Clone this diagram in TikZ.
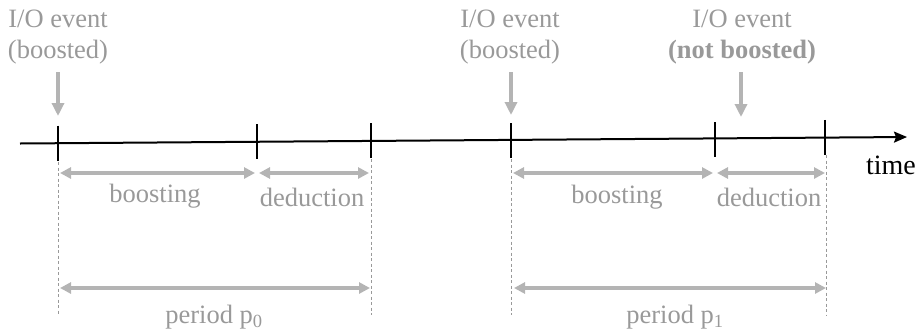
\documentclass[tikz,border=0pt]{standalone}
\usepackage{fontspec}
\setmainfont{Liberation Serif}
\usetikzlibrary{arrows.meta}
\definecolor{lbl}{HTML}{999999}
\definecolor{arr}{HTML}{B4B4B4}
\begin{document}
\begin{tikzpicture}[x=1pt,y=-1pt,
 lab/.style={text=lbl,font=\fontsize{26.5}{31}\selectfont,inner sep=0pt,align=center},
 evarrow/.style={draw=arr,line width=3.5pt,-{Triangle[length=13pt,width=12pt]}},
 span/.style={draw=arr,line width=3.5pt,{Triangle[length=11pt,width=11pt]}-{Triangle[length=11pt,width=11pt]}},
 guide/.style={draw=lbl,line width=0.8pt,dash pattern=on 3pt off 2.5pt},
 tickmark/.style={draw=black,line width=2pt},
 axis/.style={draw=black,line width=2pt,-{Stealth[length=13pt,width=11pt,inset=2pt]}}]
\useasboundingbox (0,0) rectangle (917,330);
% timeline
\coordinate (a0) at (20,143.5);
\coordinate (a1) at (907,137);
\draw[axis] (a0) -- (a1);
\coordinate (t1) at (58,143.2);
\coordinate (t2) at (257,141.8);
\coordinate (t3) at (371,140.9);
\coordinate (t4) at (511,140.6);
\coordinate (t5) at (715,139.6);
\coordinate (t6) at (825,137.3);
\foreach \t in {t1,t2,t3,t4,t5,t6}{
  \draw[tickmark] ([yshift=17.5pt]\t) -- ([yshift=-17.5pt]\t);
}
\node[text=black,font=\fontsize{28}{32}\selectfont,inner sep=0pt,anchor=east] (time) at (916,165) {time};
% event labels and arrows
\node[lab] (e1) at (58,37) {I/O event\\(boosted)};
\node[lab] (e2) at (510,37) {I/O event\\(boosted)};
\node[lab] (e3) at (742,37) {I/O event\\\textbf{(not boosted)}};
\coordinate (e1s) at (58,72); \coordinate (e1t) at (58,116);
\coordinate (e2s) at (511,72); \coordinate (e2t) at (511,115);
\coordinate (e3s) at (741,72); \coordinate (e3t) at (741,117);
\draw[evarrow] (e1s) -- (e1t);
\draw[evarrow] (e2s) -- (e2t);
\draw[evarrow] (e3s) -- (e3t);
% dashed guides
\coordinate (g1a) at (58,162); \coordinate (g1b) at (58,315);
\coordinate (g3a) at (371,159); \coordinate (g3b) at (371,315);
\coordinate (g4a) at (511,159); \coordinate (g4b) at (511,315);
\coordinate (g6a) at (826,155); \coordinate (g6b) at (826,315);
\draw[guide] (g1a) -- (g1b);
\draw[guide] (g3a) -- (g3b);
\draw[guide] (g4a) -- (g4b);
\draw[guide] (g6a) -- (g6b);
% phase spans
\coordinate (b1a) at (60,173); \coordinate (b1b) at (255,173);
\coordinate (d1a) at (259,173); \coordinate (d1b) at (369,173);
\coordinate (b2a) at (513,173); \coordinate (b2b) at (713,173);
\coordinate (d2a) at (717,173); \coordinate (d2b) at (825,173);
\draw[span] (b1a) -- (b1b);
\draw[span] (d1a) -- (d1b);
\draw[span] (b2a) -- (b2b);
\draw[span] (d2a) -- (d2b);
\node[lab] (l1) at (155,196) {boosting};
\node[lab] (l2) at (312,197) {deduction};
\node[lab] (l3) at (617,197) {boosting};
\node[lab] (l4) at (769,197) {deduction};
% periods
\coordinate (p0a) at (60,288); \coordinate (p0b) at (370,288);
\coordinate (p1a) at (514,288); \coordinate (p1b) at (826,288);
\draw[span] (p0a) -- (p0b);
\draw[span] (p1a) -- (p1b);
\node[lab] (q0) at (214,317) {period p\textsubscript{0}};
\node[lab] (q1) at (675,317) {period p\textsubscript{1}};
\end{tikzpicture}
\end{document}
